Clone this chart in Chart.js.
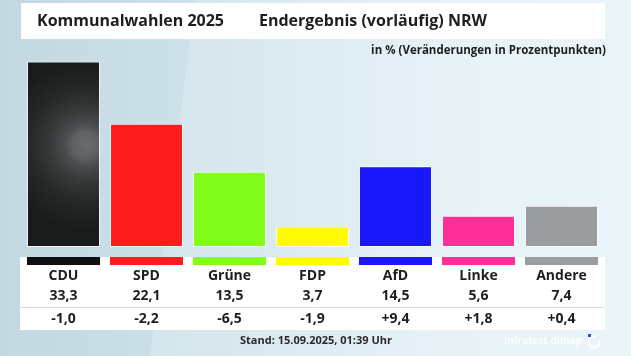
<!DOCTYPE html>
<html>
<head>
<meta charset="utf-8">
<script src="https://cdn.jsdelivr.net/npm/chart.js@4/dist/chart.umd.min.js"></script>
<style>
html,body{margin:0;padding:0;background:#d4e6ee;}
canvas{display:block;}
</style>
</head>
<body>
<canvas id="c" width="631" height="356"></canvas>
<script>
const parties = ["CDU", "SPD", "Grüne", "FDP", "AfD", "Linke", "Andere"];
const results = [33.3, 22.1, 13.5, 3.7, 14.5, 5.6, 7.4];
const changes = ["-1,0", "-2,2", "-6,5", "-1,9", "+9,4", "+1,8", "+0,4"];
const colors = ["#1c1e1e", "#fe1c1c", "#82fc1c", "#fffb05", "#1818fa", "#fe2f98", "#9a9d9e"];
const stripColors = ["#0f0f0f", "#fe1c1c", "#82fc1c", "#fffb05", "#1818fa", "#fe2f98", "#9a9d9e"];
const titleLeft = "Kommunalwahlen 2025";
const titleRight = "Endergebnis (vorläufig) NRW";
const subtitle = "in % (Veränderungen in Prozentpunkten)";
const footer = "Stand: 15.09.2025, 01:39 Uhr";
const FONT = "'Open Sans', 'Noto Sans', sans-serif";

function fmt(v){ return v.toFixed(1).replace('.', ','); }

const decor = {
  id: 'decor',
  beforeDraw(chart){
    const ctx = chart.ctx, W = chart.width, H = chart.height;
    ctx.save();
    const g = ctx.createLinearGradient(0, 0, W, 0);
    g.addColorStop(0, '#c2d8e2');
    g.addColorStop(0.3, '#cde1ea');
    g.addColorStop(0.7, '#e0eff6');
    g.addColorStop(1, '#e6f2f8');
    ctx.fillStyle = g;
    ctx.fillRect(0, 0, W, H);
    ctx.fillStyle = 'rgba(255,255,255,0.2)';
    ctx.beginPath();
    ctx.moveTo(195, 0); ctx.lineTo(W, 0); ctx.lineTo(W, H); ctx.lineTo(150, H);
    ctx.closePath(); ctx.fill();
    ctx.fillStyle = '#ffffff';
    ctx.fillRect(21, 3, 584, 36);
    ctx.fillRect(20, 257, 585, 73);
    ctx.strokeStyle = '#dcdcdc';
    ctx.lineWidth = 1;
    ctx.beginPath(); ctx.moveTo(20, 307.5); ctx.lineTo(605, 307.5); ctx.stroke();
    ctx.fillStyle = '#1e1e1e';
    ctx.textBaseline = 'middle';
    ctx.textAlign = 'left';
    ctx.font = "bold 16px " + FONT;
    ctx.fillText(titleLeft, 37, 21);
    ctx.fillText(titleRight, 259, 21);
    ctx.font = "bold 11.5px " + FONT;
    ctx.textAlign = 'right';
    ctx.fillText(subtitle, 606, 51);
    ctx.textAlign = 'center';
    ctx.font = "bold 11px " + FONT;
    ctx.fillStyle = '#2a2a2a';
    ctx.fillText(footer, 316, 341);
    ctx.textAlign = 'right';
    ctx.font = "bold 10px " + FONT;
    ctx.fillStyle = 'rgba(255,255,255,0.85)';
    ctx.fillText("infratest dimap", 582, 341);
    ctx.strokeStyle = 'rgba(255,255,255,0.9)';
    ctx.lineWidth = 2.5;
    ctx.beginPath(); ctx.arc(594, 342, 5.5, -0.3, Math.PI * 1.6); ctx.stroke();
    ctx.fillStyle = '#1f5fb0';
    ctx.fillRect(588, 334, 3, 3);
    ctx.restore();
  },
  afterDatasetsDraw(chart){
    const ctx = chart.ctx;
    const meta = chart.getDatasetMeta(0);
    ctx.save();
    meta.data.forEach((bar, i) => {
      const w = bar.width;
      const x0 = bar.x - w / 2;
      ctx.fillStyle = stripColors[i];
      ctx.fillRect(x0, 257, w, 8);
      ctx.fillStyle = '#1e1e1e';
      ctx.textAlign = 'center';
      ctx.textBaseline = 'middle';
      ctx.font = "bold 14px " + FONT;
      ctx.fillText(parties[i], bar.x, 276);
      ctx.fillText(fmt(results[i]), bar.x, 296);
      ctx.fillText(changes[i], bar.x, 319);
    });
    ctx.restore();
  }
};

function barColor(c){
  const i = c.dataIndex;
  if (i !== 0) return colors[i];
  const chart = c.chart;
  const xs = chart.scales && chart.scales.x;
  if (!xs) return colors[0];
  const px = xs.getPixelForValue(0);
  if (!Number.isFinite(px)) return colors[0];
  const cx = px + 22, cy = 145;
  const g = chart.ctx.createRadialGradient(cx, cy, 2, cx, cy, 85);
  g.addColorStop(0, '#686b6b');
  g.addColorStop(0.14, '#5e6161');
  g.addColorStop(0.22, '#4b4e4e');
  g.addColorStop(0.4, '#373a3a');
  g.addColorStop(0.65, '#262828');
  g.addColorStop(1, '#191b1b');
  return g;
}

new Chart(document.getElementById('c'), {
  type: 'bar',
  data: {
    labels: parties,
    datasets: [{
      data: results,
      backgroundColor: barColor,
      borderColor: 'rgba(255,255,255,0.75)',
      borderWidth: 1,
      borderSkipped: false,
      barPercentage: 0.88,
      categoryPercentage: 1.0
    }]
  },
  options: {
    responsive: false,
    animation: false,
    devicePixelRatio: 1,
    layout: { padding: { top: 52, bottom: 109, left: 22, right: 28 } },
    scales: {
      x: { display: false },
      y: { display: false, min: 0, max: 35 }
    },
    plugins: { legend: { display: false }, tooltip: { enabled: false } }
  },
  plugins: [decor]
});
</script>
</body>
</html>
